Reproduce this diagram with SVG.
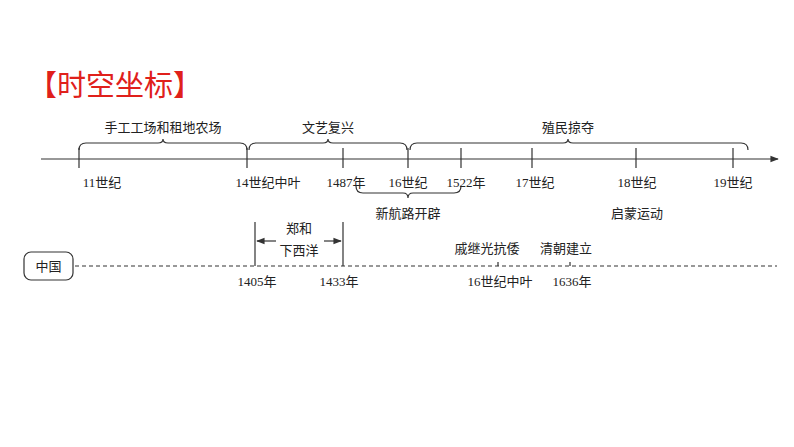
<svg xmlns="http://www.w3.org/2000/svg" width="794" height="447" viewBox="0 0 794 447">
<defs>
<style>
text{font-family:"Liberation Serif","Noto Sans CJK SC",serif;font-size:13px;fill:#222;text-anchor:middle}
.cn{font-family:"Noto Sans CJK SC","Noto Sans",sans-serif}
.ln{stroke:#333;stroke-width:1.2;fill:none}
</style>
<marker id="ah" viewBox="0 0 10 10" refX="9" refY="5" markerWidth="7" markerHeight="7" orient="auto"><path d="M0,1 L10,5 L0,9 z" fill="#333"/></marker>
</defs>
<rect width="794" height="447" fill="#fff"/>
<text x="28" y="96" style="font-family:'Noto Sans CJK SC',sans-serif;font-size:29px;fill:#e0201b;text-anchor:start">【时空坐标】</text>
<g id="connectors">
<line class="ln" x1="41" y1="159" x2="778" y2="159" marker-end="url(#ah)"/>
<path class="ln" d="M79,148V168M247,148V168M343,148V168M408,148V168M461,148V168M532,148V168M636,148V168M733,148V168"/>
<path class="ln" d="M79,150Q79,143 86,143H158Q163,143 163,139Q163,143 168,143H240Q247,143 247,150"/>
<path class="ln" d="M249,150Q249,143 256,143H323Q328,143 328,139Q328,143 333,143H400Q407,143 407,150"/>
<path class="ln" d="M410,150Q410,143 417,143H563Q568,143 568,139Q568,143 573,143H741Q748,143 748,150"/>
<path class="ln" d="M356,186Q356,193 363,193H403Q408,193 408,198Q408,193 413,193H454Q461,193 461,186"/>
<line class="ln" x1="75" y1="266" x2="777" y2="266" stroke-dasharray="4,3"/>
<path class="ln" d="M255,222V266M343,222V266M498,262V266M570,262V266"/>
<line class="ln" x1="276" y1="241" x2="257" y2="241" marker-end="url(#ah)"/>
<line class="ln" x1="324" y1="241" x2="341" y2="241" marker-end="url(#ah)"/>
</g>
<g id="china"><rect x="24" y="252" width="49" height="28" rx="7" class="ln"/><text class="cn" x="48.5" y="271">中国</text></g>
<g id="labels">
<text class="cn" x="163" y="132">手工工场和租地农场</text>
<text class="cn" x="328" y="132">文艺复兴</text>
<text class="cn" x="568" y="132">殖民掠夺</text>
<text x="102" y="187">11世纪</text>
<text x="268" y="187">14世纪中叶</text>
<text x="346" y="187">1487年</text>
<text x="408" y="187">16世纪</text>
<text x="466" y="187">1522年</text>
<text x="535" y="187">17世纪</text>
<text x="637" y="187">18世纪</text>
<text x="733" y="187">19世纪</text>
<text class="cn" x="408" y="218">新航路开辟</text>
<text class="cn" x="637" y="218">启蒙运动</text>
<text class="cn" x="299" y="233">郑和</text>
<text class="cn" x="299" y="255">下西洋</text>
<text x="257" y="286">1405年</text>
<text x="339" y="286">1433年</text>
<text class="cn" x="487" y="253">戚继光抗倭</text>
<text class="cn" x="566" y="253">清朝建立</text>
<text x="500" y="286">16世纪中叶</text>
<text x="572" y="286">1636年</text>
</g>
</svg>
